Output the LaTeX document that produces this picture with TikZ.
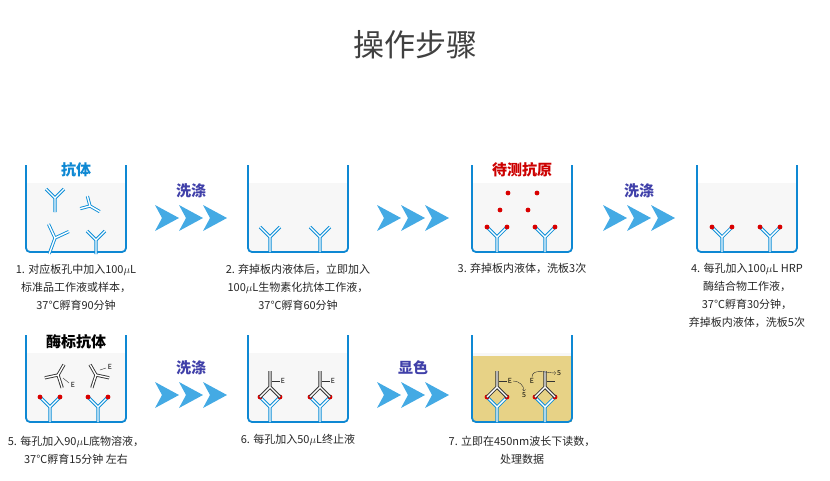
\documentclass[tikz,border=0pt]{standalone}
\usepackage{fontspec}
\setmainfont{Noto Sans CJK SC}
\begin{document}
\begin{tikzpicture}[x=1pt,y=-1pt,
  wellc/.style={draw=cyan!70!blue,line width=1.8pt,rounded corners=4pt},
  liq/.style={fill=cyan!3!gray!7},
  blueab/.style={draw=cyan!75!blue,double=white,double distance=1.4pt,line width=0.9pt},
  blackab/.style={draw=black!80,double=white,double distance=1.4pt,line width=0.9pt},
  dot/.style={circle,fill=red!85!black,inner sep=1.7pt},
  captxt/.style={font=\fontsize{11}{18}\selectfont,align=center,text=black!85},
  wash/.style={font=\bfseries\fontsize{15}{16}\selectfont,text=blue!55!black!75},
  tri/.style={fill=cyan!80!blue!75},
  lab/.style={font=\bfseries\fontsize{15}{16}\selectfont}]
\useasboundingbox (0,0) rectangle (830,480);
\node (title) at (415,45) {\fontsize{31}{33}\selectfont\color{black!75}操作步骤};
% wells
\foreach \n/\x/\y in {w1/26/165,w2/248/165,w3/472/165,w4/697/165,w5/26/335,w6/248/335,w7/472/335}{
  \fill[liq] (\x,\y+18) -- (\x,\y+87) -- (\x+100,\y+87) -- (\x+100,\y+18) -- cycle;
}
\fill[yellow!60!orange!45!white!90!black] (472,356) rectangle (572,422);
\foreach \n/\x/\y in {w1/26/165,w2/248/165,w3/472/165,w4/697/165,w5/26/335,w6/248/335,w7/472/335}{
  \draw[wellc] (\x,\y) -- (\x,\y+87) -- (\x+100,\y+87) -- (\x+100,\y);
  \coordinate (\n) at (\x+50,\y+87);
}
% arrows
\foreach \n/\x/\y/\t in {a1/155/218/洗涤,a2/377/218/{},a3/603/218/洗涤,a4/155/395/洗涤,a5/377/395/显色}{
  \foreach \k in {0,24,48}{\fill[tri] (\x+\k,\y-13) -- (\x+\k+24,\y) -- (\x+\k,\y+13) -- (\x+\k+7,\y) -- cycle;}
  \node[wash] (\n) at (\x+36,\y-27) {\t};
}
% labels in wells
\node[lab,text=cyan!70!blue] (l1) at (76,170) {抗体};
\node[lab,text=red!80!black] (l3) at (522,170) {待测抗原};
\node[lab,text=black] (l5) at (76,342) {酶标抗体};
% free antibodies well 1
\foreach \x/\y/\r/\s in {55/198/0/1,90/206/60/0.8,55/238/-20/1.2,96/240/0/1}{
  \begin{scope}[shift={(\x,\y)},rotate=\r,scale=\s]
  \draw[blueab] (0,14) -- (0,0) (-9,-9) -- (0,0) -- (9,-9);
  \end{scope}}
% capture antibodies
\foreach \x in {270,320,497,545,722,770}{
 \draw[blueab] (\x,252) -- (\x,237) (\x-10,227) -- (\x,237) -- (\x+10,227);}
\foreach \x in {50,98,270,320,497,545}{
 \draw[blueab] (\x,422) -- (\x,407) (\x-10,397) -- (\x,407) -- (\x+10,397);}
\foreach \x in {497,545,722,770}{\node[dot] at (\x-10,227){};\node[dot] at (\x+10,227){};}
\foreach \x in {50,98,270,320,497,545}{\node[dot] at (\x-10,397){};\node[dot] at (\x+10,397){};}
\foreach \x/\y in {508/193,537/193,500/210,528/210}{\node[dot] at (\x,\y){};}
% enzyme antibodies well 5
\foreach \x/\y/\r in {58/375/-30,96/375/30}{
 \begin{scope}[shift={(\x,\y)},rotate=\r]
 \draw[blackab] (0,0) -- (0,-12) (-10,9) -- (0,0) -- (10,9);
 \end{scope}}
\draw[black!80] (63,378) -- (69,383); \node[font=\scriptsize] at (73,385) {E};
\draw[black!80] (100,370) -- (106,368); \node[font=\scriptsize] at (110,367) {E};
% bound detection antibodies
\foreach \x in {270,320,497,545}{
 \draw[blackab] (\x-10,397) -- (\x,387) -- (\x+10,397) (\x,387) -- (\x,371);
 \draw[black!80] (\x+2,381) -- (\x+10,381);}
\foreach \x in {270,320}{\node[font=\scriptsize,inner sep=1pt] at (\x+13,381) {E};}
\node[font=\scriptsize,inner sep=1pt] (e1) at (510,381) {E};
\node[font=\scriptsize,inner sep=1pt] (e2) at (532,381) {E};
\node[font=\scriptsize,inner sep=1pt] (f1) at (524,395) {5};
\node[font=\scriptsize,inner sep=1pt] (f2) at (559,373) {5};
\draw[black!80,->] (e1.east) to[out=0,in=90] (f1.north);
\draw[black!80,->] (e2.north) to[out=90,in=180] (f2.west);
% captions
\node[captxt] (c1) at (76,287) {1. 对应板孔中加入100$\mu$L\\标准品工作液或样本，\\37℃孵育90分钟};
\node[captxt] (c2) at (298,287) {2. 弃掉板内液体后，立即加入\\100$\mu$L生物素化抗体工作液，\\37℃孵育60分钟};
\node[captxt] (c3) at (522,268) {3. 弃掉板内液体，洗板3次};
\node[captxt] (c4) at (747,295) {4. 每孔加入100$\mu$L HRP\\酶结合物工作液，\\37℃孵育30分钟，\\弃掉板内液体，洗板5次};
\node[captxt] (c5) at (76,450) {5. 每孔加入90$\mu$L底物溶液，\\37℃孵育15分钟 左右};
\node[captxt] (c6) at (298,440) {6. 每孔加入50$\mu$L终止液};
\node[captxt] (c7) at (522,450) {7. 立即在450nm波长下读数，\\处理数据};
\end{tikzpicture}
\end{document}
